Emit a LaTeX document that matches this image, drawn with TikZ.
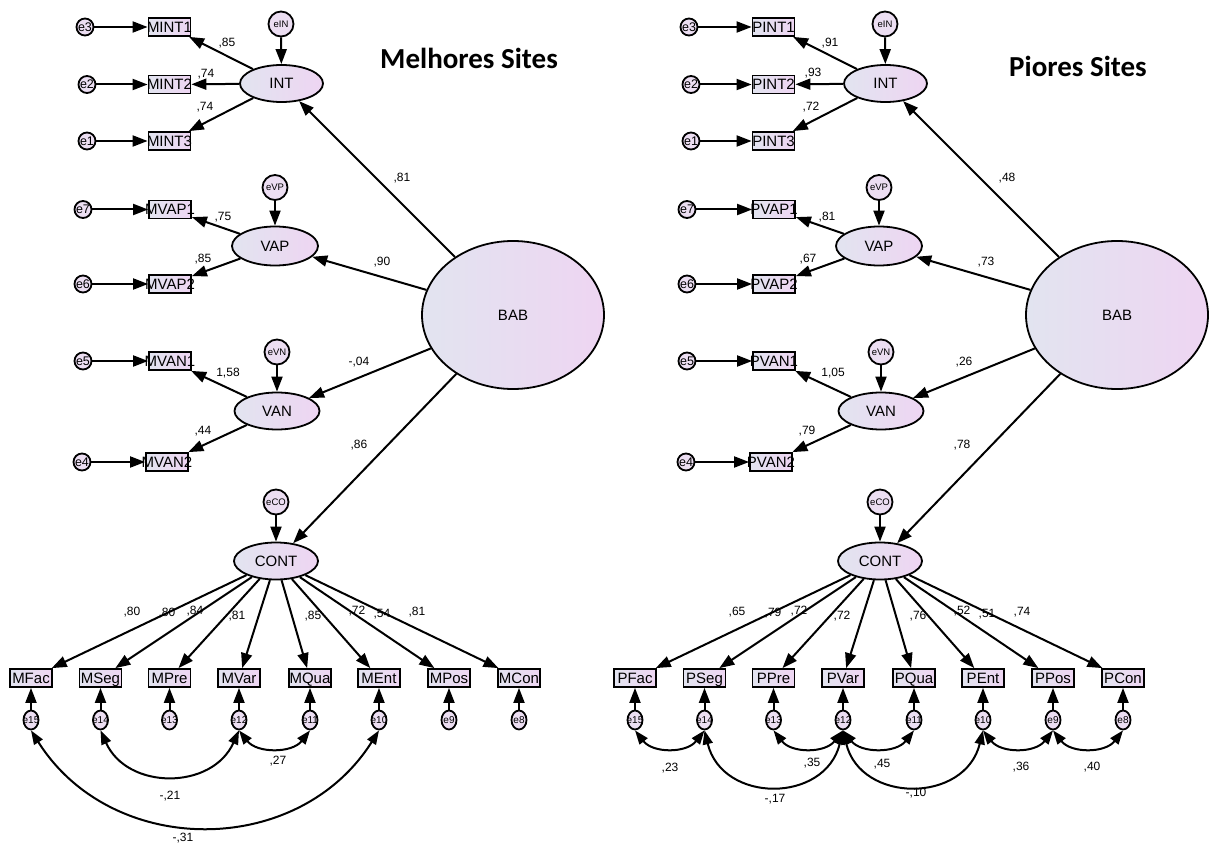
\documentclass[tikz,border=0pt]{standalone}
\usepackage{fontspec}
\setmainfont{Liberation Sans}
\newfontfamily\headfont{Carlito}
\usetikzlibrary{arrows.meta,shapes.geometric}
\definecolor{shadeL}{RGB}{226,228,240}
\definecolor{shadeR}{RGB}{238,213,242}
\definecolor{errfill}{RGB}{236,222,242}
\newcommand\ob[1]{\makebox[0pt]{#1}}
\tikzset{
  shp/.style={draw, line width=1.8pt, inner sep=0pt},
  latent/.style={shp, ellipse, left color=shadeL, right color=shadeR, font=\fontsize{15}{15}\selectfont},
  obs/.style={shp, rectangle, left color=shadeL, right color=shadeR, minimum width=42pt, minimum height=18pt, text height=10.5pt, text depth=0pt, font=\fontsize{15}{15}\selectfont},
  err/.style={shp, circle, fill=errfill, minimum size=17pt, font=\fontsize{12.5}{12.5}\selectfont},
  errb/.style={shp, ellipse, fill=errfill, minimum width=15pt, minimum height=19pt, font=\fontsize{10}{10}\selectfont},
  dist/.style={shp, circle, fill=errfill, minimum size=25pt, font=\fontsize{9.5}{9.5}\selectfont},
  arr/.style={line width=2pt, -{Triangle[length=15pt,width=11pt]}},
  cov/.style={line width=2pt, {Triangle[length=14pt,width=10pt]}-{Triangle[length=14pt,width=10pt]}},
  lbl/.style={font=\fontsize{12}{12}\selectfont, inner sep=0pt},
  head/.style={font=\headfont\bfseries\fontsize{29}{29}\selectfont, inner sep=0pt}
}
% One measurement model; #1 is the item prefix (M or P), also used for node names
\newcommand\semmodel[1]{%
  % indicators of INT, VAP and VAN
  \node[obs] (#1i1) at (169.5,27) {\ob{#1INT1}};
  \node[obs] (#1i2) at (169.5,84.5) {\ob{#1INT2}};
  \node[obs] (#1i3) at (169.5,141) {\ob{#1INT3}};
  \node[obs] (#1p1) at (170,209.5) {\ob{#1VAP1}};
  \node[obs] (#1p2) at (170,284) {\ob{#1VAP2}};
  \node[obs] (#1n1) at (170,361) {\ob{#1VAN1}};
  \node[obs] (#1n2) at (167,462) {\ob{#1VAN2}};
  % their error terms
  \node[err] (#1e3) at (85,27) {\ob{e3}};
  \node[err] (#1e2) at (87,84.5) {\ob{e2}};
  \node[err] (#1e1) at (87,141) {\ob{e1}};
  \node[err] (#1e7) at (83,209.5) {\ob{e7}};
  \node[err] (#1e6) at (83,284) {\ob{e6}};
  \node[err] (#1e5) at (83,361) {\ob{e5}};
  \node[err] (#1e4) at (82,462) {\ob{e4}};
  % latent variables
  \node[latent, minimum width=83pt, minimum height=37pt] (#1int) at (281.5,83.5) {INT};
  \node[latent, minimum width=86pt, minimum height=39pt] (#1vap) at (275,246) {VAP};
  \node[latent, minimum width=85pt, minimum height=37pt] (#1van) at (277,411) {VAN};
  \node[latent, minimum width=84pt, minimum height=37pt] (#1cont) at (276,561) {CONT};
  \node[latent, minimum width=182pt, minimum height=148pt] (#1bab) at (513,315) {BAB};
  % disturbances
  \node[dist] (#1dI) at (281,24) {eIN};
  \node[dist] (#1dP) at (275,187.5) {eVP};
  \node[dist] (#1dN) at (277,352) {eVN};
  \node[dist] (#1dC) at (276,502) {eCO};
  % paths
  \foreach \s/\t in {e3/i1,e2/i2,e1/i3,e7/p1,e6/p2,e5/n1,e4/n2,
                     int/i1,int/i2,int/i3,vap/p1,vap/p2,van/n1,van/n2,
                     dI/int,dP/vap,dN/van,dC/cont,
                     bab/int,bab/vap,bab/van,bab/cont}
    {\draw[arr] (#1\s) -- (#1\t);}
  % indicators of CONT with their errors
  \foreach \nm/\x/\k in {Fac/31/15,Seg/100.5/14,Pre/169.5/13,Var/239/12,
                         Qua/310/11,Ent/379/10,Pos/449/9,Con/519/8} {
    \node[obs] (#1b\k) at (\x,678) {\ob{#1\nm}};
    \node[errb] (#1e\k) at (\x,720) {\ob{e\k}};
    \draw[arr] (#1e\k) -- (#1b\k);
    \draw[arr] (#1cont) -- (#1b\k);
  }
}
\begin{document}
\begin{tikzpicture}[x=1pt,y=-1pt]
  \useasboundingbox (0,0) rectangle (1211,848);
  \fill[white] (0,0) rectangle (1211,848);

  \node[head] (t1) at (469,58) {Melhores Sites};
  \node[head] (t2) at (1078,66) {Piores Sites};

  % best sites
  \semmodel{M}
  \draw[cov] (Me14.south) .. controls +(26.9,59.9) and +(-26.9,59.9) .. (Me12.south);
  \draw[cov] (Me12.south) .. controls +(18,23) and +(-18,23) .. (Me11.south);
  \draw[cov] (Me15.south) .. controls +(80.7,128) and +(-80.7,128) .. (Me10.south);
  \foreach \x/\y/\t in {227/43/{,85},206/74/{,74},205/107/{,74},402/178/{,81},
      382/262/{,90},223/217/{,75},203/259/{,85},228/373/{1,58},203/431/{,44},
      359/362/{-,04},359/445/{,86},
      132/612/{,80},167/613/{,80},195/611/{,84},237/616/{,81},313/616/{,85},
      357/611/{,72},382/614/{,54},417/612/{,81},
      170/796/{-,21},278/761/{,27},183/838/{-,31}}
    {\node[lbl] at (\x,\y) {\t};}

  % worst sites
  \begin{scope}[shift={(604,0)}]
    \semmodel{P}
    \draw[cov] (Pe15.south) .. controls +(18,23) and +(-18,23) .. (Pe14.south);
    \draw[cov] (Pe13.south) .. controls +(18,23) and +(-18,23) .. (Pe12.south);
    \draw[cov] (Pe12.south) .. controls +(18,23) and +(-18,23) .. (Pe11.south);
    \draw[cov] (Pe10.south) .. controls +(18,23) and +(-18,23) .. (Pe9.south);
    \draw[cov] (Pe9.south) .. controls +(18,23) and +(-18,23) .. (Pe8.south);
    \draw[cov] (Pe14.south) .. controls +(17.8,73.4) and +(-17.8,73.4) .. (Pe12.south);
    \draw[cov] (Pe12.south) .. controls +(17.8,73.4) and +(-17.8,73.4) .. (Pe10.south);
  \end{scope}
  \foreach \x/\y/\t in {830/43/{,91},813/73/{,93},811/107/{,72},1007/178/{,48},
      986/262/{,73},827/217/{,81},808/259/{,67},833/373/{1,05},807/431/{,79},
      964/362/{,26},962/445/{,78},
      737/612/{,65},773/613/{,79},799/611/{,72},842/616/{,72},918/616/{,76},
      962/611/{,52},987/614/{,51},1022/612/{,74},
      670/768/{,23},775/799/{-,17},812/763/{,35},882/764/{,45},916/793/{-,10},
      1021/767/{,36},1092/767/{,40}}
    {\node[lbl] at (\x,\y) {\t};}
\end{tikzpicture}
\end{document}
